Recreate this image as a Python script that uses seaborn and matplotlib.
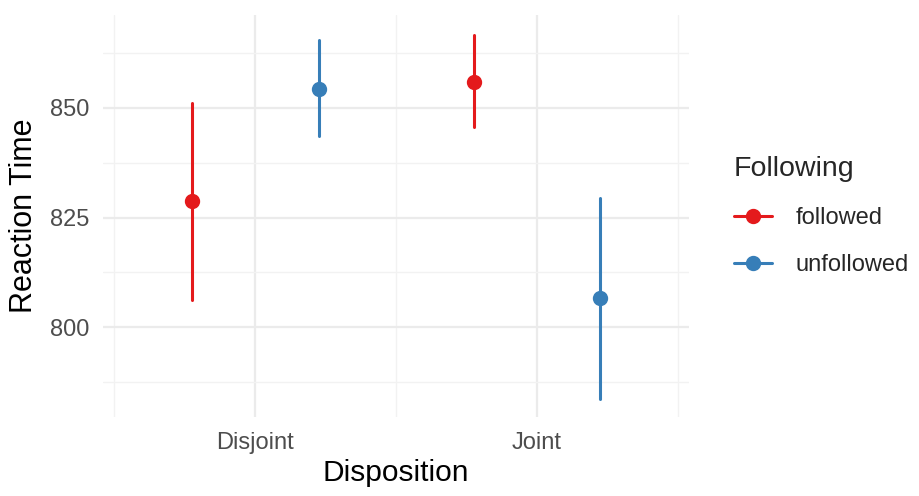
import pandas as pd
import matplotlib.pyplot as plt
import seaborn as sns

# Summary values: estimate with lower / upper interval
disposition = ['Disjoint', 'Disjoint', 'Joint', 'Joint']
following = ['followed', 'unfollowed', 'followed', 'unfollowed']
rt_mean = [828.8, 854.4, 855.9, 806.6]
rt_low = [806.3, 843.7, 845.6, 783.7]
rt_high = [851.1, 865.4, 866.7, 829.5]

# Expand to three rows per group so median = estimate and full range = interval
rows = []
for d, f, m, lo, hi in zip(disposition, following, rt_mean, rt_low, rt_high):
    for v in (lo, m, hi):
        rows.append({'Disposition': d, 'Following': f, 'Reaction Time': v})
data = pd.DataFrame(rows)

sns.set_style('whitegrid')
plt.rcParams['font.family'] = ['Liberation Sans', 'DejaVu Sans']

fig = plt.figure(figsize=(9.19, 4.96), dpi=100)
ax = fig.add_axes([0.112, 0.159, 0.638, 0.811])

palette = {'followed': '#E41A1C', 'unfollowed': '#377EB8'}
sns.pointplot(data=data, x='Disposition', y='Reaction Time', hue='Following',
              order=['Disjoint', 'Joint'], hue_order=['followed', 'unfollowed'],
              estimator='median', errorbar=('pi', 100), dodge=0.45,
              linestyle='none', palette=palette, markers='o',
              markersize=9, err_kws={'linewidth': 2.2}, ax=ax)

ax.set_xlim(-0.54, 1.54)
ax.set_ylim(779.5, 871.2)
ax.set_yticks([800, 825, 850])
ax.set_yticks([787.5, 812.5, 837.5, 862.5], minor=True)
ax.set_xticks([-0.5, 0.5, 1.5], minor=True)

ax.set_facecolor('white')
for s in ax.spines.values():
    s.set_visible(False)
ax.grid(True, which='major', color='#EBEBEB', linewidth=1.6)
ax.grid(True, which='minor', color='#F2F2F2', linewidth=1.0)
ax.tick_params(which='both', length=0)
ax.tick_params(axis='x', labelsize=17, labelcolor='#4D4D4D', pad=11)
ax.tick_params(axis='y', labelsize=17, labelcolor='#4D4D4D', pad=10)
ax.set_xlabel('Disposition', fontsize=21.5, color='black', labelpad=3)
ax.set_ylabel('Reaction Time', fontsize=22, color='black', labelpad=8)

handles, labels = ax.get_legend_handles_labels()
for h in handles:
    h.set_linestyle('-')
    h.set_linewidth(2.2)
ax.legend(handles, labels, title='Following', loc='center left',
          bbox_to_anchor=(1.04, 0.50), frameon=False, fontsize=17,
          title_fontsize=20.5, handlelength=1.6, handletextpad=1.0,
          labelspacing=1.05, alignment='left')

fig.savefig('out.png', dpi=100)
